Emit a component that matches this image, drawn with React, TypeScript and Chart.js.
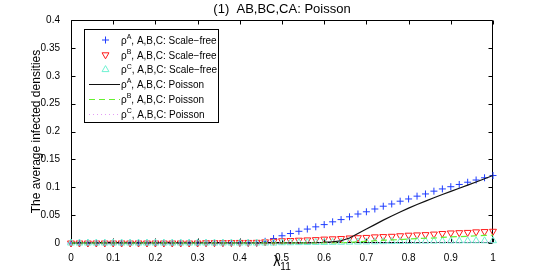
import React, { useEffect, useRef } from 'react';
import { Chart, registerables } from 'chart.js';
import { drawPoint } from 'chart.js/helpers';

Chart.register(...registerables);

const FONT = "'Liberation Sans', Arial, Helvetica, 'DejaVu Sans', sans-serif";

// x values (lambda_11)
const lambda = [0, 0.02, 0.04, 0.06, 0.08, 0.1, 0.12, 0.14, 0.16, 0.18, 0.2, 0.22, 0.24, 0.26, 0.28, 0.3, 0.32, 0.34, 0.36, 0.38, 0.4, 0.42, 0.44, 0.46, 0.48, 0.5, 0.52, 0.54, 0.56, 0.58, 0.6, 0.62, 0.64, 0.66, 0.68, 0.7, 0.72, 0.74, 0.76, 0.78, 0.8, 0.82, 0.84, 0.86, 0.88, 0.9, 0.92, 0.94, 0.96, 0.98, 1];

// Scale-free series
const sfA = [0, 0, 0, 0, 0, 0, 0, 0, 0, 0, 0, 0, 0, 0, 0, 0, 0, 0, 0, 0, 0, 0, 0,
  0.003, 0.008, 0.013, 0.017, 0.021, 0.025, 0.029, 0.033, 0.038, 0.042,
  0.047, 0.052, 0.056, 0.061, 0.066, 0.070, 0.075, 0.079, 0.084, 0.088,
  0.093, 0.097, 0.101, 0.105, 0.109, 0.113, 0.117, 0.121];
const sfB = [0, 0, 0, 0, 0, 0, 0, 0, 0, 0, 0, 0, 0, 0, 0, 0, 0.0005, 0.0005, 0.0007, 0.0008, 0.001, 0.001, 0.0012,
  0.002, 0.003, 0.004, 0.0045, 0.005, 0.0055, 0.006, 0.007, 0.0075, 0.008,
  0.009, 0.0095, 0.010, 0.011, 0.0115, 0.012, 0.013, 0.014, 0.0145, 0.015,
  0.016, 0.017, 0.018, 0.0185, 0.019, 0.020, 0.0205, 0.021];
const sfC = [0, 0, 0, 0, 0, 0, 0, 0, 0, 0, 0, 0, 0, 0, 0, 0, 0, 0, 0, 0, 0, 0, 0, 0, 0,
  0.0005, 0.0005, 0.0007, 0.0008, 0.001, 0.001, 0.0012, 0.0014, 0.0016, 0.0018,
  0.002, 0.0022, 0.0024, 0.0026, 0.0028, 0.003, 0.0032, 0.0034, 0.0035, 0.0036,
  0.0037, 0.0038, 0.0039, 0.004, 0.004, 0.0041];

// Poisson series
const poA = [0, 0, 0, 0, 0, 0, 0, 0, 0, 0, 0, 0, 0, 0, 0, 0, 0, 0, 0, 0, 0, 0, 0, 0, 0, 0, 0, 0, 0,
  0.0005, 0.001, 0.002, 0.004, 0.009, 0.017, 0.025, 0.033, 0.041, 0.0485,
  0.0555, 0.0625, 0.069, 0.0752, 0.0812, 0.087, 0.0927, 0.0983, 0.1039, 0.1095,
  0.1152, 0.121];
const poB = [0, 0, 0, 0, 0, 0, 0, 0, 0, 0, 0, 0, 0, 0, 0, 0, 0, 0, 0, 0, 0, 0, 0, 0, 0, 0, 0, 0, 0, 0, 0, 0,
  0.0005, 0.001, 0.002, 0.003, 0.004, 0.005, 0.0055, 0.006, 0.007, 0.008,
  0.0085, 0.009, 0.010, 0.011, 0.0115, 0.012, 0.013, 0.0135, 0.014];
const poC = [0, 0, 0, 0, 0, 0, 0, 0, 0, 0, 0, 0, 0, 0, 0, 0, 0, 0, 0, 0, 0, 0, 0, 0, 0, 0, 0, 0, 0, 0, 0, 0, 0, 0, 0, 0,
  0.0002, 0.0003, 0.0004, 0.0005, 0.0006, 0.0007, 0.0008, 0.0009, 0.001, 0.0011,
  0.0012, 0.0013, 0.0014, 0.0015, 0.0016];

// Ticks
const xTickValues = [0, 0.1, 0.2, 0.3, 0.4, 0.5, 0.6, 0.7, 0.8, 0.9, 1];
const xTickLabels = ['0', '0.1', '0.2', '0.3', '0.4', '0.5', '0.6', '0.7', '0.8', '0.9', '1'];
const yTickValues = [0, 0.05, 0.1, 0.15, 0.2, 0.25, 0.3, 0.35, 0.4];
const yTickLabels = ['0', '0.05', '0.1', '0.15', '0.2', '0.25', '0.3', '0.35', '0.4'];

// Text
const titleText = '(1)  AB,BC,CA: Poisson';
const yTitle = 'The average infected densities';
const xTitleMain = 'λ';
const xTitleSub = '11';
const seriesSymbols = ['A', 'B', 'C', 'A', 'B', 'C'];
const seriesKinds = ['Scale−free', 'Scale−free', 'Scale−free', 'Poisson', 'Poisson', 'Poisson'];

const COLORS = ['#1f3dff', '#ff1a1a', '#6ff2d2', '#111111', '#66f030', '#e39cf5'];

function labelFor(i: number) {
  return 'ρ' + seriesSymbols[i] + ', A,B,C: ' + seriesKinds[i];
}

const pts = (arr: number[]) => arr.map((v, i) => ({ x: lambda[i], y: v }));

const framePlugin = {
  id: 'matlabFrame',
  beforeDatasetsDraw(chart: any) {
    const { ctx, chartArea, scales } = chart;
    const l = Math.round(chartArea.left) + 0.5;
    const r = Math.round(chartArea.right) - 0.5;
    const t = Math.round(chartArea.top) + 0.5;
    const b = Math.round(chartArea.bottom) - 0.5;
    ctx.save();
    ctx.strokeStyle = '#000';
    ctx.lineWidth = 1;
    ctx.beginPath();
    ctx.rect(l, t, r - l, b - t);
    const tl = 4;
    xTickValues.forEach((v) => {
      const px = Math.round(scales.x.getPixelForValue(v)) + 0.5;
      ctx.moveTo(px, b); ctx.lineTo(px, b - tl);
      ctx.moveTo(px, t); ctx.lineTo(px, t + tl);
    });
    yTickValues.forEach((v) => {
      const py = Math.round(scales.y.getPixelForValue(v)) + 0.5;
      ctx.moveTo(l, py); ctx.lineTo(l + tl, py);
      ctx.moveTo(r, py); ctx.lineTo(r - tl, py);
    });
    ctx.stroke();
    ctx.restore();
  },
};

const legendPlugin = {
  id: 'matlabLegend',
  afterDraw(chart: any) {
    const { ctx, chartArea } = chart;
    // x-axis title with subscript
    ctx.save();
    const cx = (chartArea.left + chartArea.right) / 2;
    ctx.fillStyle = '#000';
    ctx.textBaseline = 'alphabetic';
    ctx.textAlign = 'left';
    ctx.font = `14px ${FONT}`;
    const wMain = ctx.measureText(xTitleMain).width;
    ctx.font = `10px ${FONT}`;
    const wSub = ctx.measureText(xTitleSub).width;
    const x0 = cx - (wMain + wSub) / 2;
    ctx.font = `14px ${FONT}`;
    ctx.fillText(xTitleMain, x0, 266);
    ctx.font = `10px ${FONT}`;
    ctx.fillText(xTitleSub, x0 + wMain, 270);
    ctx.restore();

    const bx = Math.round(chartArea.left) + 13;
    const by = Math.round(chartArea.top) + 9;
    const bw = 134;
    const bh = 93;
    ctx.save();
    ctx.fillStyle = '#fff';
    ctx.fillRect(bx, by, bw, bh);
    ctx.strokeStyle = '#000';
    ctx.lineWidth = 1;
    ctx.strokeRect(bx + 0.5, by + 0.5, bw, bh);
    chart.data.datasets.forEach((ds: any, i: number) => {
      const cy = by + 11 + i * 14.8;
      const sx0 = bx + 5;
      const sx1 = bx + 36;
      const mx = bx + 21.5;
      ctx.strokeStyle = ds.borderColor;
      if (ds.showLine === false) {
        ctx.lineWidth = 1;
        ctx.fillStyle = 'rgba(0,0,0,0)';
        drawPoint(ctx, { pointStyle: ds.pointStyle, radius: ds.pointRadius, rotation: ds.pointRotation || 0, borderWidth: 1 }, mx, cy);
      } else {
        ctx.lineWidth = 1;
        ctx.setLineDash(ds.borderDash || []);
        ctx.beginPath();
        ctx.moveTo(sx0, Math.round(cy) + 0.5);
        ctx.lineTo(sx1, Math.round(cy) + 0.5);
        ctx.stroke();
        ctx.setLineDash([]);
      }
      // text with superscript
      ctx.fillStyle = '#000';
      ctx.textBaseline = 'middle';
      ctx.textAlign = 'left';
      let tx = bx + 37;
      ctx.font = `10px ${FONT}`;
      ctx.fillText('ρ', tx, cy + 1);
      tx += ctx.measureText('ρ').width;
      ctx.font = `7px ${FONT}`;
      ctx.fillText(seriesSymbols[i], tx, cy - 3);
      tx += ctx.measureText(seriesSymbols[i]).width;
      ctx.font = `10px ${FONT}`;
      ctx.fillText(', A,B,C: ' + seriesKinds[i], tx, cy + 1);
    });
    ctx.restore();
  },
};

export default function App() {
  const ref = useRef<HTMLCanvasElement | null>(null);
  useEffect(() => {
    document.body.style.margin = '0';
    const canvas = ref.current;
    if (!canvas) return;
    const chart = new Chart(canvas, {
      type: 'line',
      data: {
        datasets: [
          { label: labelFor(0), data: pts(sfA), showLine: false, pointStyle: 'cross', pointRadius: 3.5, borderColor: COLORS[0], backgroundColor: COLORS[0], pointBorderWidth: 1, order: 5, clip: false },
          { label: labelFor(1), data: pts(sfB), showLine: false, pointStyle: 'triangle', pointRotation: 180, pointRadius: 4, borderColor: COLORS[1], backgroundColor: 'rgba(0,0,0,0)', pointBorderWidth: 1, order: 4, clip: false },
          { label: labelFor(2), data: pts(sfC), showLine: false, pointStyle: 'triangle', pointRadius: 4, borderColor: COLORS[2], backgroundColor: 'rgba(0,0,0,0)', pointBorderWidth: 1, order: 3, clip: false },
          { label: labelFor(3), data: pts(poA), borderColor: COLORS[3], borderWidth: 1.2, pointRadius: 0, tension: 0, order: 2, clip: false },
          { label: labelFor(4), data: pts(poB), borderColor: COLORS[4], borderWidth: 1.2, borderDash: [6, 4], pointRadius: 0, tension: 0, order: 1, clip: false },
          { label: labelFor(5), data: pts(poC), borderColor: COLORS[5], borderWidth: 1.2, borderDash: [1, 3], pointRadius: 0, tension: 0, order: 0, clip: false },
        ] as any,
      },
      options: {
        responsive: false,
        animation: false,
        devicePixelRatio: 1,
        layout: { padding: { left: 0, right: 52, top: 0, bottom: 0 } },
        plugins: {
          legend: { display: false },
          tooltip: { enabled: false },
          title: {
            display: true,
            text: titleText,
            fullSize: false,
            color: '#000',
            font: { family: FONT, size: 13, weight: 'normal' },
            padding: { top: 2, bottom: 2.4 },
          },
        },
        scales: {
          x: {
            type: 'linear',
            min: 0,
            max: 1,
            grid: { display: false },
            border: { display: false },
            afterBuildTicks: (s: any) => { s.ticks = xTickValues.map((v) => ({ value: v })); },
            afterFit: (s: any) => { s.height = 30; },
            ticks: {
              padding: 1,
              color: '#000',
              font: { family: FONT, size: 10 },
              maxRotation: 0,
              autoSkip: false,
              callback: (v: any) => xTickLabels[xTickValues.indexOf(Number(v))] ?? '',
            },
            title: { display: false },
          },
          y: {
            type: 'linear',
            min: 0,
            max: 0.4,
            grid: { display: false },
            border: { display: false },
            afterBuildTicks: (s: any) => { s.ticks = yTickValues.map((v) => ({ value: v })); },
            afterFit: (s: any) => { s.width = 71; },
            ticks: {
              padding: 3,
              color: '#000',
              font: { family: FONT, size: 10 },
              autoSkip: false,
              callback: (v: any) => yTickLabels[yTickValues.indexOf(Number(v))] ?? '',
            },
            title: {
              display: true,
              text: yTitle,
              color: '#000',
              font: { family: FONT, size: 12 },
              padding: { top: 29, bottom: 0 },
            },
          },
        },
      },
      plugins: [framePlugin, legendPlugin],
    } as any);
    return () => chart.destroy();
  }, []);
  return <canvas ref={ref} width={545} height={273} style={{ display: 'block', width: 545, height: 273 }} />;
}
